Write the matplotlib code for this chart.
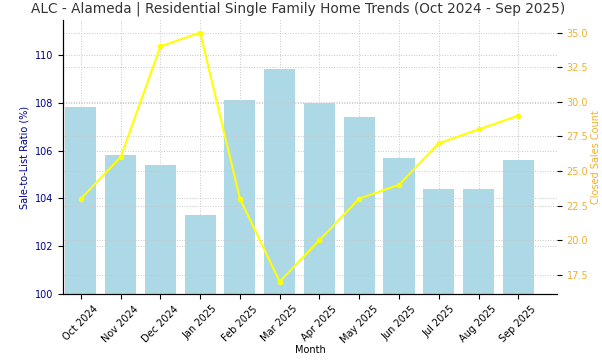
import matplotlib
matplotlib.use("Agg")
import matplotlib.pyplot as plt

months = ["Oct 2024", "Nov 2024", "Dec 2024", "Jan 2025", "Feb 2025", "Mar 2025",
          "Apr 2025", "May 2025", "Jun 2025", "Jul 2025", "Aug 2025", "Sep 2025"]
sale_to_list = [107.8, 105.8, 105.4, 103.3, 108.1, 109.4,
                108.0, 107.4, 105.7, 104.4, 104.4, 105.6]
closed_sales = [23, 26, 34, 35, 23, 17, 20, 23, 24, 27, 28, 29]

fig, ax1 = plt.subplots(figsize=(6.02, 3.6), dpi=100)
fig.subplots_adjust(left=0.105, right=0.925, top=0.944, bottom=0.183)

x = range(len(months))
ax1.bar(x, sale_to_list, color="lightblue", width=0.78)
ax1.set_ylim(100, 111.45)
ax1.set_ylabel("Sale-to-List Ratio (%)", color="darkblue", fontsize=7)
ax1.tick_params(axis="y", labelcolor="darkblue", labelsize=7)
ax1.tick_params(axis="x", labelsize=7)
ax1.set_xlabel("Month", fontsize=7, labelpad=0)
ax1.set_xticks(list(x))
ax1.set_xticklabels(months, rotation=45)
ax1.grid(True, linestyle=":", color="#c8c8c8", linewidth=0.7)
ax1.set_axisbelow(True)
ax1.set_xlim(-0.445, 11.97)

ax2 = ax1.twinx()
ax2.plot(x, closed_sales, color="yellow", marker="o", markersize=3, linewidth=1.5)
ax2.set_ylabel("Closed Sales Count", color="#f0b030", fontsize=7, labelpad=2)
ax2.tick_params(axis="y", labelcolor="#f0b030", labelsize=7)
ax2.grid(True, linestyle=":", color="#c8c8c8", linewidth=0.7)

for a in (ax1, ax2):
    a.spines["top"].set_visible(False)
    a.spines["right"].set_visible(False)

fig.suptitle("ALC - Alameda | Residential Single Family Home Trends (Oct 2024 - Sep 2025)",
             fontsize=9.8, color="#333333", x=0.495, y=0.995)

fig.savefig("out.png", dpi=100)
